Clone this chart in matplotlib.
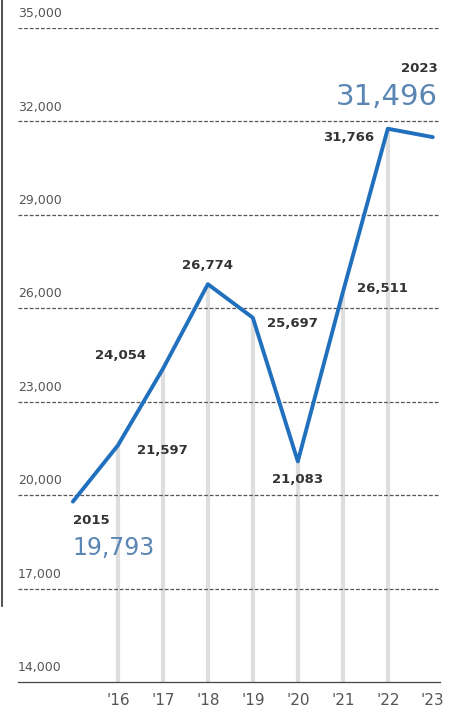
import matplotlib
matplotlib.use("Agg")
import matplotlib.pyplot as plt
from matplotlib.lines import Line2D

years = [2015, 2016, 2017, 2018, 2019, 2020, 2021, 2022, 2023]
values = [19793, 21597, 24054, 26774, 25697, 21083, 26511, 31766, 31496]
tick_labels = ["'16", "'17", "'18", "'19", "'20", "'21", "'22", "'23"]
y_ticks = [14000, 17000, 20000, 23000, 26000, 29000, 32000, 35000]

# label placement for interior points: (dx points, dy points, ha, va)
label_pos = {
    2016: (14, -4, 'left', 'center'),
    2017: (-12, 10, 'right', 'center'),
    2018: (0, 9, 'center', 'bottom'),
    2019: (10, -4, 'left', 'center'),
    2020: (0, -8, 'center', 'top'),
    2021: (10, 3, 'left', 'center'),
    2022: (-10, -6, 'right', 'center'),
}

W, H = 458, 713
fig = plt.figure(figsize=(W / 100, H / 100), dpi=100)
ax = fig.add_axes([18 / W, 1 - 682 / H, (440 - 18) / W, (682 - 28) / H])
ax.set_xlim(2013.78, 2023.16)
ax.set_ylim(14000, 35000)

for s in ax.spines.values():
    s.set_visible(False)
ax.spines['bottom'].set_visible(True)
ax.spines['bottom'].set_color('#444444')
ax.spines['bottom'].set_linewidth(0.9)

# horizontal gridlines and labels
for v in y_ticks:
    if v != y_ticks[0]:
        ax.axhline(v, color='#555555', lw=0.9, ls=(0, (3, 1.5)), zorder=1)
    ax.text(2013.78, v + 250, f"{v:,}", ha='left', va='bottom',
            fontsize=9, color='#555555', clip_on=False)

# drop lines
for yr, v in zip(years[1:-1], values[1:-1]):
    ax.plot([yr, yr], [14000, v], color='#dedede', lw=3, zorder=0,
            solid_capstyle='butt')

ax.plot(years, values, color='#2070be', lw=2.8, zorder=3,
        solid_joinstyle='round', solid_capstyle='round')

for yr, v in zip(years, values):
    if yr in label_pos:
        dx, dy, ha, va = label_pos[yr]
        ax.annotate(f"{v:,}", (yr, v), xytext=(dx, dy),
                    textcoords='offset points', ha=ha, va=va,
                    fontsize=9.5, fontweight='bold', color='#333333', zorder=4)

# endpoint callouts
ax.annotate(str(years[-1]), (2023.1, 33700), ha='right', va='center',
            fontsize=9.5, fontweight='bold', color='#333333', annotation_clip=False)
ax.annotate(f"{values[-1]:,}", (2023.1, 32800), ha='right', va='center',
            fontsize=21, color='#5b86b3', annotation_clip=False)
ax.annotate(str(years[0]), (2015.0, 19200), ha='left', va='center',
            fontsize=9.5, fontweight='bold', color='#333333')
ax.annotate(f"{values[0]:,}", (2014.98, 18300), ha='left', va='center',
            fontsize=17, color='#5b86b3')

ax.set_xticks(years[1:])
ax.set_xticklabels(tick_labels, fontsize=11, color='#555555')
ax.tick_params(axis='x', length=0, pad=8)
ax.set_yticks([])

# left border line of the figure
fig.add_artist(Line2D([0.004, 0.004], [0.15, 1.0], color='#333333', lw=1.2))

fig.savefig("out.png", dpi=100, facecolor='white')
